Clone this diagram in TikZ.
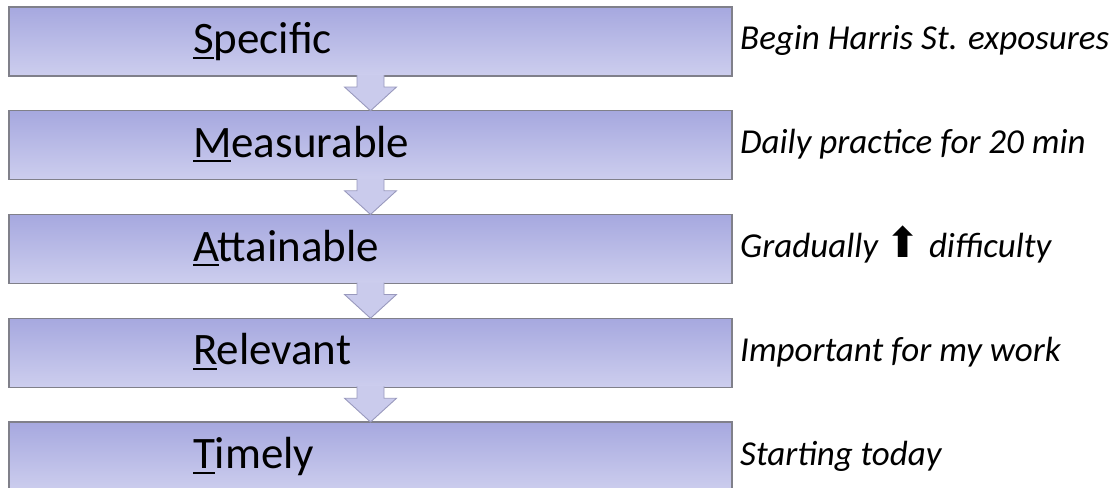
\documentclass[tikz,border=0pt]{standalone}
\usepackage{fontspec}
\setmainfont{Carlito}
\newfontfamily\symfont{DejaVu Sans}
\usetikzlibrary{calc}

\definecolor{boxtop}{HTML}{A6A8DF}
\definecolor{boxbot}{HTML}{CDCEEE}
\definecolor{boxline}{HTML}{80808A}
\definecolor{arrowfill}{HTML}{CACBEC}
\definecolor{arrowline}{HTML}{9999BD}

% underline the first letter only
\newcommand{\firstul}[1]{\setbox0\hbox{#1}\rlap{\rule[-5pt]{\wd0}{2pt}}#1}

\tikzset{
  goalbox/.style={draw=boxline, line width=1.1pt, top color=boxtop, bottom color=boxbot,
    minimum width=723pt, minimum height=69pt, outer sep=0pt,
    text width=355pt, inner xsep=184pt, inner ysep=0pt, align=left,
    text height=32pt, text depth=8pt, font=\fontsize{45}{50}\selectfont},
  note/.style={anchor=base west, inner sep=0pt, font=\fontsize{35}{40}\selectfont\itshape},
  blockarrow/.style={fill=arrowfill, draw=arrowline, line width=0.9pt, line join=miter}
}

\begin{document}
\begin{tikzpicture}[x=1pt, y=-1pt]
  \useasboundingbox (0,0) rectangle (1115,487);
  \node[goalbox] (spec) at (370.5,41.5) {\firstul{S}pecific};
  \node[goalbox] (meas) at (370.5,145.25) {\firstul{M}easurable};
  \node[goalbox] (att) at (370.5,249) {\firstul{A}ttainable};
  \node[goalbox] (rel) at (370.5,352.75) {\firstul{R}elevant};
  \node[goalbox] (tim) at (370.5,456.5) {\firstul{T}imely};
  % arrows between the boxes
  \foreach \a/\b in {spec/meas, meas/att, att/rel, rel/tim}
    \filldraw[blockarrow] ($(\a.south)+(-13.5,-1)$) -- ($(\a.south)+(-13.5,11)$) -- ($(\a.south)+(-26,11)$)
      -- (\b.north) -- ($(\a.south)+(26,11)$) -- ($(\a.south)+(13.5,11)$) -- ($(\a.south)+(13.5,-1)$);
  \node[note] (specnote) at (740,50) {Begin Harris St. exposures};
  \node[note] (measnote) at (740,153.75) {Daily practice for 20 min};
  \node[note] (attnote) at (740,257.5) {Gradually {\symfont\upshape\fontsize{42}{44}\selectfont ⬆} difficulty};
  \node[note] (relnote) at (740,361.25) {Important for my work};
  \node[note] (timnote) at (740,465) {Starting today};
\end{tikzpicture}
\end{document}
